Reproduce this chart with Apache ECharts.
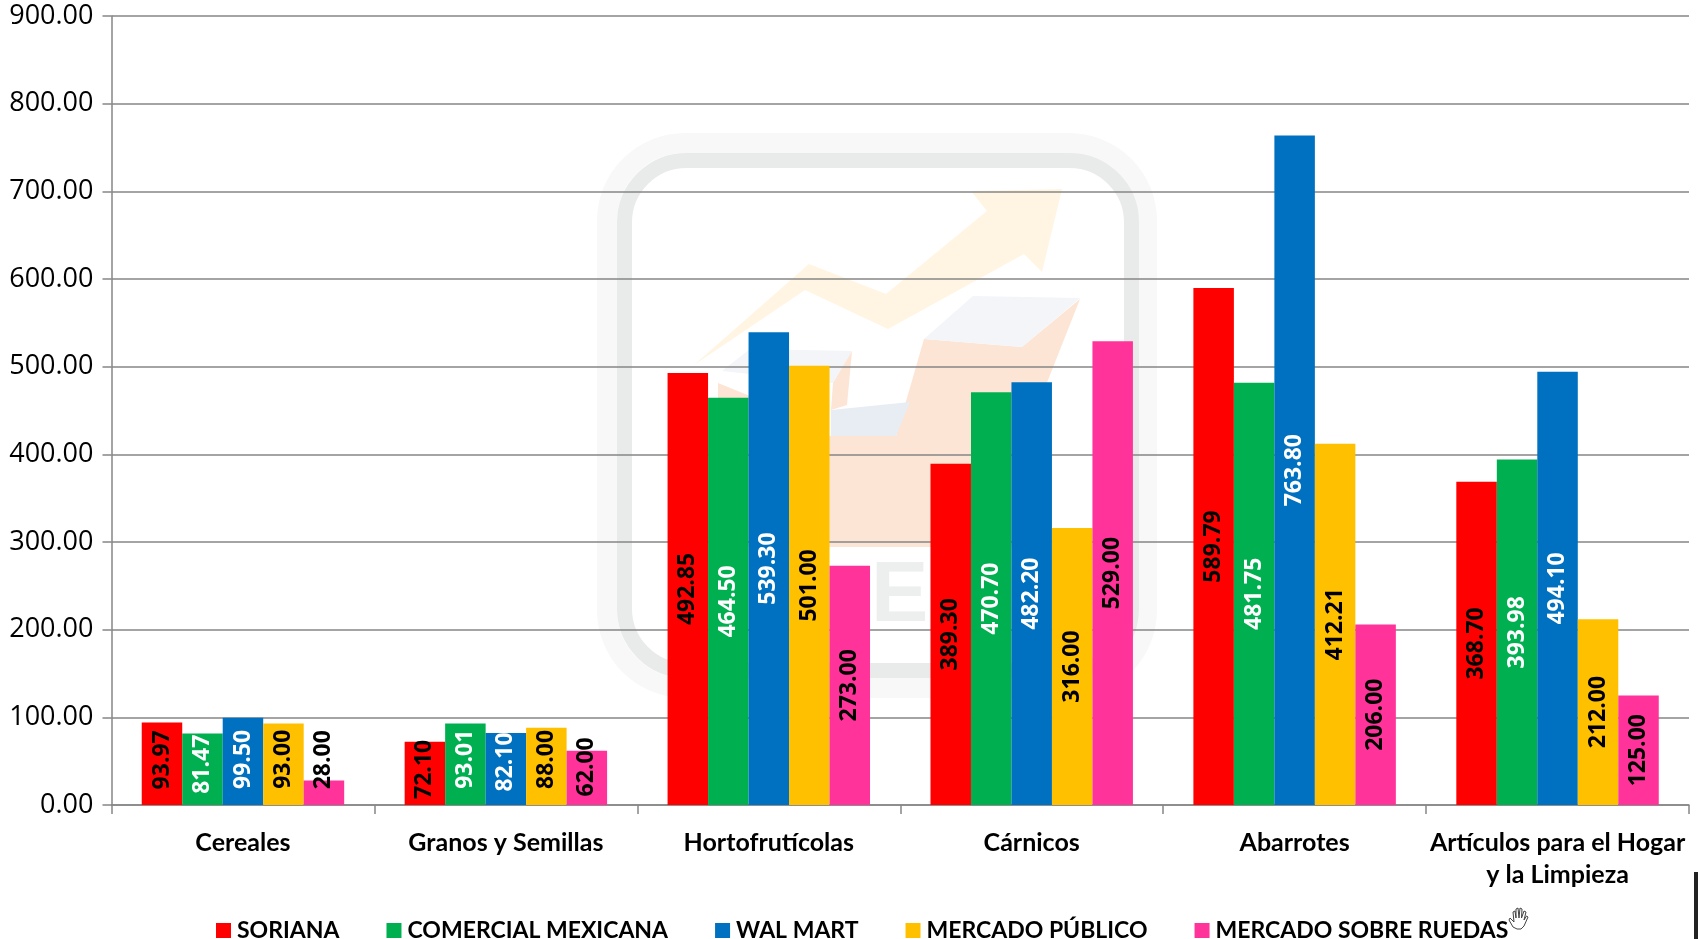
<!DOCTYPE html>
<html>
<head>
<meta charset="utf-8" />
<style>
  html, body { margin: 0; padding: 0; background: #fff; overflow: hidden; }
  #chart { width: 1698px; height: 939px; }
</style>
<script src="https://cdn.jsdelivr.net/npm/echarts@6/dist/echarts.min.js"></script>
</head>
<body>
<div id="chart"></div>
<script>
const categories = [
  "Cereales",
  "Granos y Semillas",
  "Hortofrutícolas",
  "Cárnicos",
  "Abarrotes",
  "Artículos para el Hogar\ny la Limpieza",
];
const soriana = [93.97, 72.1, 492.85, 389.3, 589.79, 368.7];
const comercial = [81.47, 93.01, 464.5, 470.7, 481.75, 393.98];
const walmart = [99.5, 82.1, 539.3, 482.2, 763.8, 494.1];
const mercadoPublico = [93.0, 88.0, 501.0, 316.0, 412.21, 212.0];
const sobreRuedas = [28.0, 62.0, 273.0, 529.0, 206.0, 125.0];

// the small bars have their labels moved by hand in the original
// (labels are rotated, so local +x means "up" on screen)
const labelShift = {
  soriana: [4, 4, 0, 0, 0, 0],
  comercial: [5, 5, 0, 0, 0, 0],
  walmart: [2, 7, 0, 0, 0, 0],
  mercadoPublico: [5, 7, 0, 0, 0, 0],
  sobreRuedas: [33, 11, 0, 0, 0, 0],
};

const seriesDefs = [
  { name: "SORIANA", data: soriana, color: "#FF0000", text: "#000", shift: labelShift.soriana },
  { name: "COMERCIAL MEXICANA", data: comercial, color: "#00B050", text: "#fff", shift: labelShift.comercial },
  { name: "WAL MART", data: walmart, color: "#0070C0", text: "#fff", shift: labelShift.walmart },
  { name: "MERCADO PÚBLICO", data: mercadoPublico, color: "#FFC000", text: "#000", shift: labelShift.mercadoPublico },
  { name: "MERCADO SOBRE RUEDAS", data: sobreRuedas, color: "#FF3399", text: "#000", shift: labelShift.sobreRuedas },
];

// faded logo behind the plot
function poly(points, fill) {
  return { type: "polygon", z: -10, silent: true, shape: { points }, style: { fill } };
}
const watermark = [
  {
    type: "rect", z: -10, silent: true,
    shape: { x: 607, y: 143, width: 540, height: 545, r: 78 },
    style: { fill: "none", stroke: "#F8F8F8", lineWidth: 20 },
  },
  {
    type: "rect", z: -10, silent: true,
    shape: { x: 624.5, y: 160.5, width: 507, height: 510, r: 62 },
    style: { fill: "none", stroke: "#E9EAEA", lineWidth: 15 },
  },
  poly([[694, 365], [809, 264], [886, 294], [987, 211], [971, 191], [1062, 189], [1042, 272], [1024, 254], [888, 329], [805, 290]], "#FFF5E2"),
  poly([[718, 383], [760, 400], [760, 436], [896, 436], [924, 339], [1022, 347], [1080, 299], [1022, 446], [1022, 547], [718, 547]], "#FDE5D5"),
  poly([[924, 339], [973, 296], [1080, 298], [1022, 347]], "#F3F5F8"),
  poly([[831, 410], [910, 402], [896, 436], [831, 436]], "#E8EDF3"),
  poly([[722, 371], [750, 349], [852, 351], [833, 383]], "#F3F5F8"),
  poly([[852, 351], [847, 405], [831, 410], [833, 383]], "#FDE5D5"),
  {
    type: "text", z: -10, silent: true, x: 871, y: 640,
    style: { text: "EC", fill: "#EDEEEE", font: "bold 86px 'Liberation Sans'", textVerticalAlign: "bottom" },
  },
];

// cursor left on the slide and the edge of something cut off at the right
const handOutline = [
  [1517, 929], [1513, 927], [1509, 920], [1510, 918], [1514, 922], [1513, 912], [1515, 911], [1516, 918],
  [1516, 909], [1518, 908], [1519, 918], [1520, 908], [1522, 909], [1521.5, 918], [1524, 911], [1526, 912],
  [1524, 920], [1526.5, 916], [1528, 917], [1524, 926], [1521, 929],
];
const strayMarks = [
  {
    type: "polygon", z: 10, silent: true,
    shape: { points: handOutline },
    style: { fill: "#fff", stroke: "#444", lineWidth: 1 },
  },
  {
    type: "rect", z: 10, silent: true,
    shape: { x: 1694, y: 872, width: 4, height: 67 },
    style: { fill: "#222" },
  },
];

const chart = echarts.init(document.getElementById("chart"));

const option = {
  animation: false,
  backgroundColor: "#fff",
  textStyle: { fontFamily: "Lato" },
  grid: { left: 111.5, right: 9, top: 16, bottom: 134 },
  graphic: { elements: watermark.concat(strayMarks) },
  legend: {
    left: 211,
    top: 914,
    itemWidth: 15,
    itemHeight: 15,
    itemGap: 47,
    icon: "rect",
    textStyle: { fontFamily: "Lato", fontWeight: "bold", fontSize: 23, color: "#000", padding: [0, 0, 0, 1] },
  },
  xAxis: {
    type: "category",
    data: categories,
    axisLine: { lineStyle: { color: "#868686", width: 1.5 } },
    axisTick: { show: true, length: 9, lineStyle: { color: "#868686", width: 1.5 } },
    axisLabel: {
      interval: 0,
      margin: 22,
      color: "#000",
      fontFamily: "Lato",
      fontWeight: "bold",
      fontSize: 25,
      lineHeight: 32,
    },
  },
  yAxis: {
    type: "value",
    min: 0,
    max: 900,
    interval: 100,
    axisLine: { show: true, lineStyle: { color: "#868686", width: 1.5 } },
    axisTick: { show: true, length: 9, lineStyle: { color: "#868686", width: 1.5 } },
    splitLine: { lineStyle: { color: "#868686", width: 1.5 } },
    axisLabel: {
      margin: 18,
      color: "#000",
      fontFamily: "Open Sans",
      fontSize: 27,
      formatter: (v) => v.toFixed(2),
    },
  },
  series: seriesDefs.map((s) => ({
    name: s.name,
    type: "bar",
    barGap: 0,
    barCategoryGap: "23%",
    itemStyle: { color: s.color },
    label: {
      show: true,
      position: "inside",
      rotate: 90,
      color: s.text,
      fontFamily: "Open Sans",
      fontWeight: "bold",
      fontSize: 23,
      formatter: (p) => p.value.toFixed(2),
    },
    data: s.data.map((v, i) => ({
      value: v,
      label: { offset: [s.shift[i], 0] },
    })),
  })),
};

chart.setOption(option);
</script>
</body>
</html>
